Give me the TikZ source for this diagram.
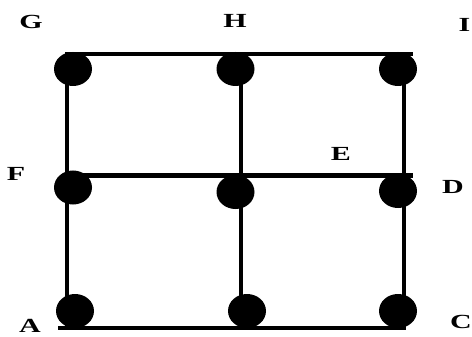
\documentclass[tikz,border=0pt]{standalone}
\usepackage{fontspec}
\setmainfont{Liberation Serif}
\usetikzlibrary{shapes.geometric}

\tikzset{
  joint/.style={ellipse, fill=black, inner sep=0pt, minimum width=38pt, minimum height=34pt},
  lbl/.style={font=\bfseries\fontsize{20}{20}\selectfont, xscale=1.5, inner sep=0pt},
  gridline/.style={line width=4pt}
}

\begin{document}
\begin{tikzpicture}[x=1pt, y=-1pt]
    \useasboundingbox (0,0) rectangle (472,337);

    % Grid corners
    \coordinate (topL) at (65,54);
    \coordinate (topR) at (413,54);
    \coordinate (midL) at (67,175.5);
    \coordinate (midR) at (413,175.5);
    \coordinate (botL) at (58,327.5);
    \coordinate (botR) at (406,327.5);
    \coordinate (colA1) at (67,54);   \coordinate (colA2) at (67,327.5);
    \coordinate (colB1) at (241,54);  \coordinate (colB2) at (241,327.5);
    \coordinate (colC1) at (404,54);  \coordinate (colC2) at (404,327.5);

    % Lines
    \draw[gridline] (topL) -- (topR);
    \draw[gridline] (midL) -- (midR);
    \draw[gridline] (botL) -- (botR);
    \draw[gridline] (colA1) -- (colA2);
    \draw[gridline] (colB1) -- (colB2);
    \draw[gridline] (colC1) -- (colC2);

    % Dots
    \node[joint] (dG) at (73,69) {};
    \node[joint] (dH) at (235.5,69) {};
    \node[joint] (dI) at (398,69) {};
    \node[joint] (dF) at (73,187.5) {};
    \node[joint] (dE) at (235.5,192) {};
    \node[joint] (dD) at (398,191) {};
    \node[joint] (dA) at (75,311) {};
    \node[joint] (dB) at (247,311) {};
    \node[joint] (dC) at (398,311) {};

    % Labels
    \node[lbl] (lG) at (31,22) {G};
    \node[lbl] (lH) at (235,21) {H};
    \node[lbl] (lI) at (464.5,25) {I};
    \node[lbl] (lF) at (16,174) {F};
    \node[lbl] (lE) at (341,154) {E};
    \node[lbl] (lD) at (453,187) {D};
    \node[lbl] (lA) at (30,326) {A};
    \node[lbl] (lC) at (461,322) {C};
\end{tikzpicture}
\end{document}
